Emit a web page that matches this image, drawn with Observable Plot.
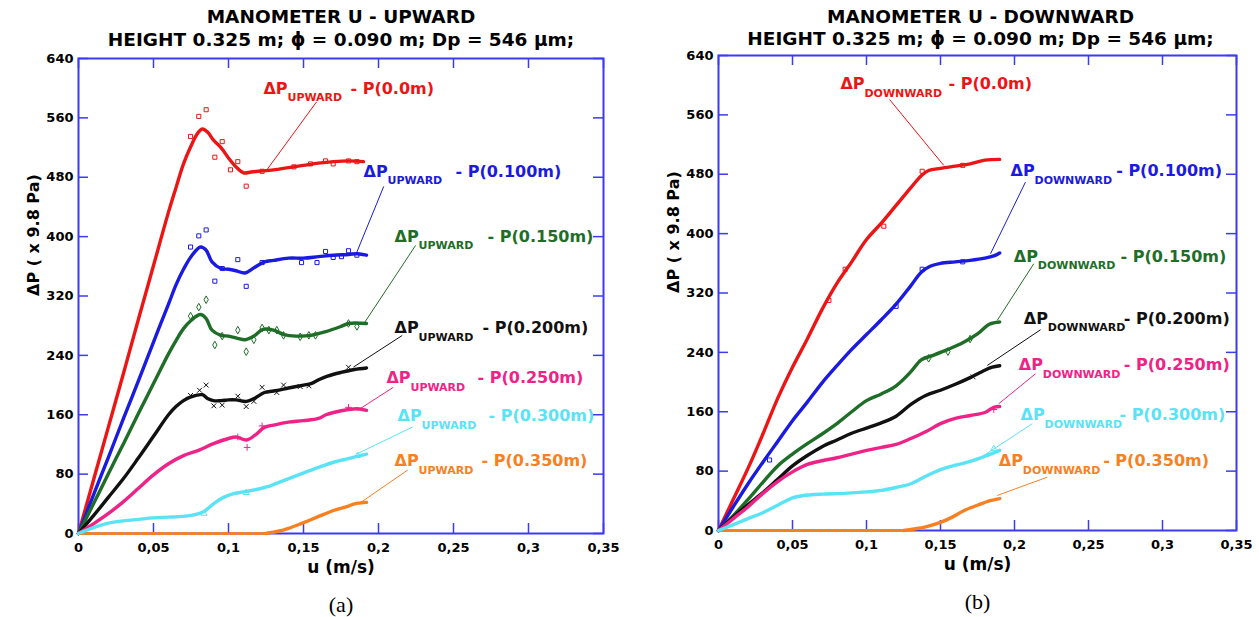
<!DOCTYPE html>
<html><head><meta charset="utf-8">
<script src="https://cdn.jsdelivr.net/npm/d3@7"></script>
<script src="https://cdn.jsdelivr.net/npm/@observablehq/plot@0.6"></script>
<style>
body{margin:0;background:#fff}
#wrap{display:flex;width:1259px;height:617px;overflow:hidden}
</style>
</head><body><div id="wrap"></div>
<script>
// ---------- tick values ----------
const xTicks = [0, 0.05, 0.1, 0.15, 0.2, 0.25, 0.3, 0.35];
const yTicks = [0, 80, 160, 240, 320, 400, 480, 560, 640];

// ---------- series names ----------
const seriesKeys = ["0.0m", "0.100m", "0.150m", "0.200m", "0.250m", "0.300m", "0.350m"];
const seriesColors = ["#ec1515", "#1a1ae0", "#1e6e28", "#111111", "#ef2387", "#5ae3f5", "#f88020"];
const seriesSymbols = ["square", "square", "diamond", "times", "plus", "triangle", "square"];

// ---------- UPWARD: lines [u (m/s), dP (x9.8 Pa)] ----------
const upRed = [[0,0],[0.01,72],[0.02,144],[0.03,216],[0.04,289],[0.05,361],[0.06,433],[0.065,466],[0.07,498],[0.075,522],[0.079,538],[0.0825,545],[0.086,541],[0.09,530],[0.095,520],[0.1,506],[0.105,494],[0.11,486],[0.115,487],[0.12,488],[0.13,490],[0.14,493],[0.15,496],[0.16,499],[0.17,501],[0.18,502],[0.19,501]];
const upBlue = [[0,0],[0.01,52],[0.02,103],[0.03,155],[0.04,206],[0.05,258],[0.06,309],[0.065,335],[0.07,356],[0.075,373],[0.0813,386],[0.085,382],[0.089,366],[0.095,357],[0.1,356],[0.105,354],[0.111,351],[0.117,358],[0.124,366],[0.13,368],[0.14,371],[0.15,371],[0.16,373],[0.17,375],[0.18,376],[0.186,377],[0.192,375]];
const upGreen = [[0,0],[0.01,40],[0.02,81],[0.03,121],[0.04,162],[0.05,202],[0.06,242],[0.065,260],[0.07,276],[0.075,287],[0.0813,295],[0.085,290],[0.089,274],[0.095,267],[0.1,266],[0.106,263],[0.111,261],[0.117,266],[0.123,275],[0.13,274],[0.137,268],[0.145,266],[0.155,267],[0.165,272],[0.175,279],[0.18,283],[0.192,283]];
const upBlack = [[0,0],[0.01,24],[0.02,49],[0.03,74],[0.04,102],[0.05,131],[0.06,160],[0.065,171],[0.07,179],[0.075,184],[0.0825,187],[0.086,182],[0.09,179],[0.095,179],[0.1,180],[0.105,180],[0.112,178],[0.118,183],[0.124,190],[0.13,192],[0.14,196],[0.15,200],[0.155,202],[0.16,207],[0.166,212],[0.175,217],[0.184,221],[0.192,223]];
const upPink = [[0,0],[0.01,13],[0.02,27],[0.03,43],[0.04,61],[0.05,79],[0.06,94],[0.07,105],[0.08,112],[0.09,121],[0.1,128],[0.105,130],[0.112,126],[0.118,133],[0.124,143],[0.13,146],[0.14,150],[0.15,152],[0.16,155],[0.165,160],[0.17,163],[0.18,167],[0.186,168],[0.192,166]];
const upCyan = [[0,0],[0.01,8],[0.02,14],[0.03,17],[0.04,19],[0.05,21],[0.06,22],[0.07,23],[0.079,26],[0.084,30],[0.09,40],[0.096,48],[0.104,54],[0.11,56],[0.12,60],[0.126,63],[0.135,70],[0.148,80],[0.16,89],[0.17,96],[0.18,101],[0.192,107]];
const upOrange = [[0,0],[0.02,0],[0.05,0],[0.08,0],[0.1,0],[0.125,0],[0.133,3],[0.14,7],[0.148,13],[0.159,22],[0.17,31],[0.18,37],[0.184,40],[0.192,42]];

// ---------- UPWARD: scattered readings ----------
const upRedPts = [[0.0747,535],[0.0802,562],[0.0851,571],[0.0909,507],[0.0958,528],[0.1013,490],[0.1062,501],[0.1118,468],[0.1224,488],[0.1436,494],[0.1547,498],[0.1647,502],[0.1698,498],[0.18,502],[0.1856,501]];
const upBluePts = [[0.0747,386],[0.0802,401],[0.0851,409],[0.0909,340],[0.0958,357],[0.1062,369],[0.1118,333],[0.1224,365],[0.1487,365],[0.159,365],[0.1647,380],[0.1698,372],[0.1753,373],[0.18,381],[0.1856,375]];
const upGreenPts = [[0.0747,293],[0.0802,305],[0.0851,315],[0.0909,254],[0.0958,266],[0.1062,274],[0.1118,245],[0.1169,261],[0.1224,277],[0.1269,274],[0.1322,274],[0.1367,267],[0.1478,265],[0.1536,267],[0.158,267],[0.18,283],[0.1856,279]];
const upBlackPts = [[0.0747,186],[0.0807,193],[0.0851,200],[0.0902,172],[0.0958,173],[0.1062,185],[0.1118,171],[0.1169,178],[0.1224,197],[0.1322,190],[0.1367,200],[0.1478,198],[0.1536,199],[0.18,224]];
const upPinkPts = [[0.1062,130],[0.1124,116],[0.1224,145],[0.18,170]];
const upCyanPts = [[0.0836,27],[0.1118,55],[0.186,105]];
const upOrangePts = [];

// ---------- DOWNWARD: lines ----------
const dnRed = [[0,0],[0.01,42],[0.02,84],[0.03,130],[0.04,178],[0.05,220],[0.06,258],[0.07,298],[0.08,333],[0.09,362],[0.1,392],[0.11,414],[0.12,438],[0.13,462],[0.137,478],[0.142,485],[0.15,488],[0.16,491],[0.17,494],[0.18,499],[0.19,500]];
const dnBlue = [[0,0],[0.01,32],[0.02,63],[0.03,92],[0.04,120],[0.05,148],[0.06,173],[0.07,199],[0.08,222],[0.09,244],[0.1,264],[0.11,284],[0.12,305],[0.13,330],[0.137,348],[0.143,356],[0.15,360],[0.16,362],[0.17,364],[0.18,367],[0.186,370],[0.19,374]];
const dnGreen = [[0,0],[0.01,20],[0.02,42],[0.03,65],[0.04,87],[0.05,103],[0.06,117],[0.07,130],[0.08,144],[0.09,160],[0.1,175],[0.11,184],[0.12,195],[0.13,214],[0.137,230],[0.145,236],[0.155,244],[0.165,253],[0.175,265],[0.183,278],[0.19,281]];
const dnBlack = [[0,0],[0.01,18],[0.02,35],[0.03,51],[0.04,69],[0.05,87],[0.06,101],[0.07,113],[0.08,122],[0.09,131],[0.1,138],[0.11,145],[0.12,154],[0.13,170],[0.14,182],[0.15,189],[0.16,197],[0.17,206],[0.18,216],[0.185,220],[0.19,222]];
const dnPink = [[0,0],[0.01,16],[0.02,32],[0.03,50],[0.04,66],[0.05,79],[0.06,89],[0.07,94],[0.08,98],[0.09,103],[0.1,108],[0.11,112],[0.12,116],[0.13,124],[0.14,133],[0.15,144],[0.16,151],[0.17,155],[0.18,159],[0.186,166],[0.19,167]];
const dnCyan = [[0,0],[0.01,8],[0.02,16],[0.03,24],[0.04,34],[0.05,44],[0.057,47],[0.07,49],[0.085,50],[0.1,52],[0.11,54],[0.12,58],[0.13,63],[0.14,73],[0.15,82],[0.16,88],[0.17,93],[0.18,100],[0.19,108]];
const dnOrange = [[0,0],[0.05,0],[0.1,0],[0.125,0],[0.132,2],[0.14,5],[0.15,11],[0.158,18],[0.166,27],[0.175,34],[0.183,40],[0.19,43]];

// ---------- DOWNWARD: scattered readings ----------
const dnRedPts = [[0.0746,310],[0.0856,352],[0.1117,410],[0.1376,484],[0.165,492]];
const dnBluePts = [[0.0345,95],[0.12,302],[0.1376,352],[0.165,362]];
const dnGreenPts = [[0.142,232],[0.155,241],[0.17,258]];
const dnBlackPts = [[0.172,207]];
const dnPinkPts = [[0.186,163]];
const dnCyanPts = [[0.186,110]];
const dnOrangePts = [];

// ---------- label annotations (data units) ----------
const upLabelU = [0.1233, 0.19, 0.2107, 0.2107, 0.2053, 0.2127, 0.2107];
const upLabelP = [599.7, 487.9, 400.3, 277.6, 209.6, 158.3, 98.4];
const upSuffixU = [0.1813, 0.2513, 0.2727, 0.2693, 0.266, 0.2733, 0.2687];
const upLeadFrom = [[0.1587,581.5],[0.2035,467.7],[0.2247,388.1],[0.2158,266.8],[0.2098,196.9],[0.2225,143.3],[0.2195,85.6]];
const upLeadTo = [[0.1258,490.6],[0.1853,377.8],[0.1902,282.6],[0.1833,224.2],[0.1858,165.6],[0.1858,107.4],[0.1869,40.0]];

const dnLabelU = [0.0824, 0.1973, 0.1995, 0.2063, 0.2029, 0.2041, 0.1894];
const dnLabelP = [601.1, 484.5, 369.3, 285.7, 223.7, 156.3, 94.3];
const dnSuffixU = [0.1554, 0.2687, 0.2716, 0.2739, 0.2739, 0.2709, 0.2599];
const dnLeadFrom = [[0.1155,580.9],[0.2074,469.4],[0.2130,359.4],[0.2176,270.5],[0.2142,211.2],[0.2120,143.8],[0.2221,71.8]];
const dnLeadTo = [[0.1522,491.9],[0.1838,372.9],[0.1883,283.0],[0.1816,222.4],[0.1894,170.8],[0.1793,101.1],[0.1883,47.2]];

// ---------- build ----------
const FONT = "DejaVu Sans";
const AXIS = "#3b3bf0";
const TICK = 10;
const fmtX = d => d === 0 ? "0" : String(+d.toFixed(2)).replace(".", ",");

function rowsOf(lists) {
  const out = [];
  lists.forEach((arr, i) => arr.forEach(([u, P]) => out.push({key: seriesKeys[i], color: seriesColors[i], symbol: seriesSymbols[i], u, P})));
  return out;
}

function panel(cfg) {
  const H = 617;
  const fw = cfg.width - cfg.ml - cfg.mr;   // frame width (px)
  const fh = H - cfg.mt - cfg.mb;           // frame height (px)
  const lines = rowsOf(cfg.lines);
  const pts = rowsOf(cfg.pts);
  const orange = lines.filter(d => d.key === "0.350m");
  const lastZero = d3.max(orange.filter(d => d.P === 0), d => d.u);
  const solid = lines.filter(d => d.key !== "0.350m" || d.u >= lastZero);
  const dashed = orange.filter(d => d.P === 0);
  const labels = seriesKeys.map((k, i) => ({
    name: k, color: seriesColors[i],
    lx: cfg.labelU[i], ly: cfg.labelP[i], sx: cfg.suffixU[i],
    ax1: cfg.leadFrom[i][0], ay1: cfg.leadFrom[i][1],
    ax2: cfg.leadTo[i][0], ay2: cfg.leadTo[i][1]
  }));
  const bold = {fontFamily: FONT, fontWeight: "bold"};
  const tk = {stroke: AXIS, strokeWidth: 1.5};
  return Plot.plot({
    width: cfg.width, height: H,
    marginLeft: cfg.ml, marginRight: cfg.mr, marginTop: cfg.mt, marginBottom: cfg.mb,
    x: {domain: [0, 0.35], label: null},
    y: {domain: [0, 640], label: null},
    color: {type: "identity"},
    style: {fontFamily: FONT, background: "#fff", overflow: "visible"},
    marks: [
      // inward ticks on all four sides (rules inset to TICK px from an edge)
      Plot.ruleX(xTicks, {x: d => d, insetTop: fh - TICK, ...tk}),
      Plot.ruleX(xTicks, {x: d => d, insetBottom: fh - TICK, ...tk}),
      Plot.ruleY(yTicks, {y: d => d, insetRight: fw - TICK, ...tk}),
      Plot.ruleY(yTicks, {y: d => d, insetLeft: fw - TICK, ...tk}),
      // tick labels
      Plot.axisX(xTicks, {anchor: "bottom", tickSize: 0, tickPadding: 9, tickFormat: fmtX, fill: "#000", fontSize: 13, ...bold, label: null}),
      Plot.axisY(yTicks, {anchor: "left", tickSize: 0, tickPadding: 5, fill: "#000", fontSize: 13, ...bold, label: null}),
      Plot.frame({stroke: AXIS, strokeWidth: 2}),
      Plot.line(dashed, {x: "u", y: "P", z: "key", stroke: "color", strokeWidth: 3, strokeDasharray: "5 3"}),
      Plot.line(solid, {x: "u", y: "P", z: "key", stroke: "color", strokeWidth: 3.4, curve: "catmull-rom"}),
      Plot.dot(pts, {x: "u", y: "P", stroke: "color", symbol: "symbol", r: 2.3, strokeWidth: 1, fill: "none"}),
      Plot.link(labels, {x1: "ax1", y1: "ay1", x2: "ax2", y2: "ay2", stroke: "color", strokeWidth: 1}),
      Plot.text(labels, {x: "lx", y: "ly", text: () => "ΔP", fill: "color", textAnchor: "start", fontSize: 16, ...bold}),
      Plot.text(labels, {x: "lx", y: "ly", text: () => cfg.dir, fill: "color", textAnchor: "start", dx: 24, dy: 9.5, fontSize: 11, ...bold}),
      Plot.text(labels, {x: "sx", y: "ly", text: d => "- P(" + d.name + ")", fill: "color", textAnchor: "start", fontSize: 16, ...bold}),
      Plot.text([cfg.title1], {frameAnchor: "top", lineAnchor: "middle", dy: cfg.t1dy, dx: cfg.tdx, fontSize: 18.5, ...bold}),
      Plot.text([cfg.title2], {frameAnchor: "top", lineAnchor: "middle", dy: cfg.t2dy, dx: cfg.tdx, fontSize: 18.5, ...bold}),
      Plot.text(["ΔP ( x 9.8 Pa)"], {frameAnchor: "left", lineAnchor: "middle", rotate: -90, dx: -45, fontSize: 16, ...bold}),
      Plot.text(["u (m/s)"], {frameAnchor: "bottom", lineAnchor: "middle", dy: 34, fontSize: 17, ...bold}),
      Plot.text([cfg.caption], {frameAnchor: "bottom", lineAnchor: "middle", dy: 71, fontSize: 22, fontFamily: "Liberation Serif", fontWeight: "normal"})
    ]
  });
}

const subtitle = "HEIGHT 0.325 m; ϕ = 0.090 m; Dp = 546 μm;";
const wrap = document.getElementById("wrap");
wrap.append(panel({
  width: 630, ml: 78, mr: 27, mt: 58, mb: 84, tdx: 0,
  title1: "MANOMETER U - UPWARD", title2: subtitle, t1dy: -41, t2dy: -18,
  dir: "UPWARD", caption: "(a)",
  lines: [upRed, upBlue, upGreen, upBlack, upPink, upCyan, upOrange],
  pts: [upRedPts, upBluePts, upGreenPts, upBlackPts, upPinkPts, upCyanPts, upOrangePts],
  labelU: upLabelU, labelP: upLabelP, suffixU: upSuffixU, leadFrom: upLeadFrom, leadTo: upLeadTo
}));
wrap.append(panel({
  width: 629, ml: 88, mr: 23, mt: 55, mb: 87, tdx: 3,
  title1: "MANOMETER U - DOWNWARD", title2: subtitle, t1dy: -38, t2dy: -16,
  dir: "DOWNWARD", caption: "(b)",
  lines: [dnRed, dnBlue, dnGreen, dnBlack, dnPink, dnCyan, dnOrange],
  pts: [dnRedPts, dnBluePts, dnGreenPts, dnBlackPts, dnPinkPts, dnCyanPts, dnOrangePts],
  labelU: dnLabelU, labelP: dnLabelP, suffixU: dnSuffixU, leadFrom: dnLeadFrom, leadTo: dnLeadTo
}));
</script></body></html>
